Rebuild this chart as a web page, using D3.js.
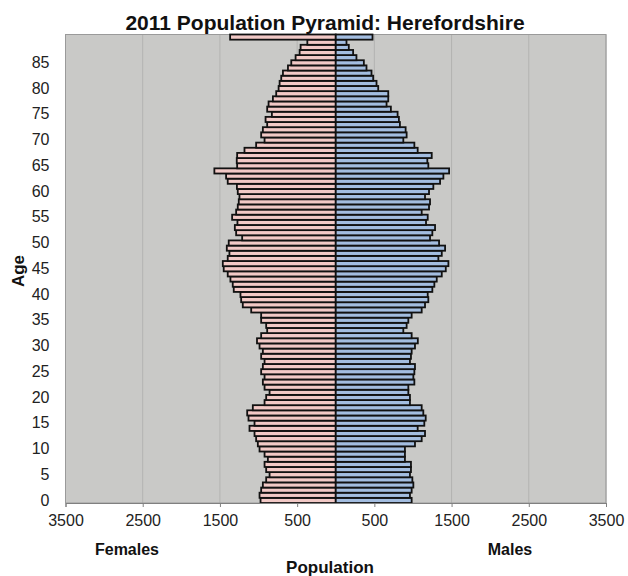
<!DOCTYPE html>
<html>
<head>
<meta charset="utf-8">
<script src="https://cdn.jsdelivr.net/npm/d3@7"></script>
<style>
  html, body { margin: 0; padding: 0; background: #ffffff; }
  svg { display: block; font-family: "Liberation Sans", Arial, sans-serif; }
</style>
</head>
<body>
<svg id="chart" width="628" height="576"></svg>
<script>
// Ages 0..90 (90 = top bar)
const ages = d3.range(0, 91);

const females = [
  974, 987, 966, 944, 901, 857, 901, 922, 879, 922,
  987, 1009, 1031, 1052, 1117, 1052, 1130, 1147, 1074, 922,
  901, 857, 922, 944, 922, 966, 944, 922, 966, 944,
  987, 1020, 966, 888, 901, 966, 966, 1095, 1204, 1225,
  1234, 1321, 1334, 1364, 1399, 1451, 1463, 1399, 1377, 1411,
  1386, 1212, 1290, 1307, 1273, 1342, 1290, 1269, 1256, 1247,
  1269, 1280, 1399, 1420, 1572, 1277, 1282, 1277, 1182, 1031,
  922, 966, 944, 888, 909, 827, 888, 870, 814, 771,
  740, 727, 706, 684, 619, 576, 520, 468, 455, 368,
  1368
];

const males = [
  983, 961, 983, 1005, 992, 961, 974, 974, 896, 896,
  896, 1026, 1113, 1156, 1061, 1147, 1165, 1134, 1113, 961,
  961, 940, 940, 1018, 1005, 1018, 1026, 961, 974, 983,
  1026, 1063, 983, 875, 918, 940, 983, 1113, 1156, 1199,
  1191, 1251, 1277, 1308, 1373, 1425, 1459, 1329, 1373, 1416,
  1338, 1221, 1251, 1286, 1169, 1191, 1113, 1208, 1221, 1156,
  1208, 1264, 1351, 1394, 1468, 1199, 1186, 1243, 1061, 1018,
  875, 918, 905, 831, 818, 801, 714, 658, 680, 680,
  550, 528, 485, 463, 398, 364, 268, 225, 169, 139,
  476
];

const xTicks = [-3500, -2500, -1500, -500, 500, 1500, 2500, 3500];
const ageTicks = d3.range(0, 90, 5);

const chartTitle = "2011 Population Pyramid: Herefordshire";

const svg = d3.select("#chart");
const pL = 65.5, pR = 606, pT = 34.5, pB = 503;

const x = d3.scaleLinear().domain([-3500, 3500]).range([pL, pR]);
const y = d3.scaleBand().domain(ages.slice().reverse()).range([pT, pB]).padding(0);

// plot background
svg.append("rect")
  .attr("x", pL).attr("y", pT)
  .attr("width", pR - pL).attr("height", pB - pT)
  .attr("fill", "#c9c9c7");

// gridlines
svg.append("g")
  .selectAll("line")
  .data(xTicks)
  .join("line")
  .attr("x1", d => x(d)).attr("x2", d => x(d))
  .attr("y1", pT).attr("y2", pB)
  .attr("stroke", "#b3b3b1").attr("stroke-width", 1);

// plot border
svg.append("rect")
  .attr("x", pL).attr("y", pT)
  .attr("width", pR - pL).attr("height", pB - pT)
  .attr("fill", "none").attr("stroke", "#9a9a9a").attr("stroke-width", 1);

const rows = ages.map((a, i) => ({ age: a, f: females[i], m: males[i] }));

// female bars
svg.append("g")
  .selectAll("rect")
  .data(rows)
  .join("rect")
  .attr("x", d => x(-d.f))
  .attr("y", d => y(d.age))
  .attr("width", d => x(0) - x(-d.f))
  .attr("height", y.bandwidth())
  .attr("fill", "#f2c9c6")
  .attr("stroke", "#111").attr("stroke-width", 1.8);

// male bars
svg.append("g")
  .selectAll("rect")
  .data(rows)
  .join("rect")
  .attr("x", x(0))
  .attr("y", d => y(d.age))
  .attr("width", d => x(d.m) - x(0))
  .attr("height", y.bandwidth())
  .attr("fill", "#a3bde0")
  .attr("stroke", "#111").attr("stroke-width", 1.8);

// bottom axis
const xAxis = d3.axisBottom(x)
  .tickValues(xTicks)
  .tickFormat(d => Math.abs(d))
  .tickSizeOuter(0)
  .tickSize(4)
  .tickPadding(8);
const gx = svg.append("g").attr("transform", `translate(0,${pB})`).call(xAxis);
gx.select(".domain").attr("stroke", "#808080");
gx.selectAll(".tick line").attr("stroke", "#808080");
gx.selectAll("text").attr("font-size", 16).attr("fill", "#222")
  .attr("font-family", "'Liberation Sans', Arial, sans-serif");

// left axis (age labels)
const yAxis = d3.axisLeft(y)
  .tickValues(ageTicks)
  .tickSize(0)
  .tickPadding(16);
const gy = svg.append("g").attr("transform", `translate(${pL},0)`).call(yAxis);
gy.select(".domain").remove();
gy.selectAll("text").attr("font-size", 16).attr("fill", "#222")
  .attr("font-family", "'Liberation Sans', Arial, sans-serif");

// title
svg.append("text")
  .attr("x", 325).attr("y", 30)
  .attr("text-anchor", "middle")
  .attr("font-size", 21).attr("font-weight", "bold").attr("fill", "#111")
  .text(chartTitle);

// axis titles
svg.append("text")
  .attr("transform", "translate(24,271) rotate(-90)")
  .attr("text-anchor", "middle")
  .attr("font-size", 17).attr("font-weight", "bold").attr("fill", "#111")
  .text("Age");

svg.append("text")
  .attr("x", 127).attr("y", 555)
  .attr("text-anchor", "middle")
  .attr("font-size", 16).attr("font-weight", "bold").attr("fill", "#111")
  .text("Females");

svg.append("text")
  .attr("x", 510).attr("y", 555)
  .attr("text-anchor", "middle")
  .attr("font-size", 16).attr("font-weight", "bold").attr("fill", "#111")
  .text("Males");

svg.append("text")
  .attr("x", 330).attr("y", 573)
  .attr("text-anchor", "middle")
  .attr("font-size", 17).attr("font-weight", "bold").attr("fill", "#111")
  .text("Population");
</script>
</body>
</html>
